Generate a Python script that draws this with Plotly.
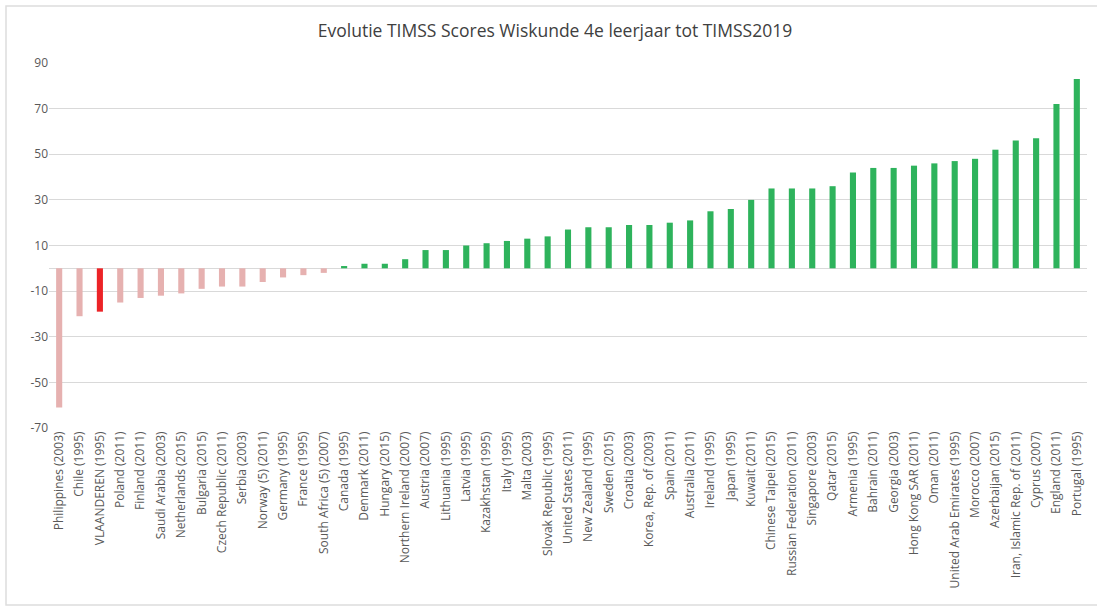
import plotly.graph_objects as go

countries = [
    "Philippines (2003)", "Chile (1995)", "VLAANDEREN (1995)", "Poland (2011)", "Finland (2011)",
    "Saudi Arabia (2003)", "Netherlands (2015)", "Bulgaria (2015)", "Czech Republic (2011)", "Serbia (2003)",
    "Norway (5) (2011)", "Germany (1995)", "France (1995)", "South Africa (5) (2007)", "Canada (1995)",
    "Denmark (2011)", "Hungary (2015)", "Northern Ireland (2007)", "Austria (2007)", "Lithuania (1995)",
    "Latvia (1995)", "Kazakhstan (1995)", "Italy (1995)", "Malta (2003)", "Slovak Republic (1995)",
    "United States (2011)", "New Zealand (1995)", "Sweden (2015)", "Croatia (2003)", "Korea, Rep. of (2003)",
    "Spain (2011)", "Australia (2011)", "Ireland (1995)", "Japan (1995)", "Kuwait (2011)",
    "Chinese Taipei (2015)", "Russian Federation (2011)", "Singapore (2003)", "Qatar (2015)", "Armenia (1995)",
    "Bahrain (2011)", "Georgia (2003)", "Hong Kong SAR (2011)", "Oman (2011)", "United Arab Emirates (1995)",
    "Morocco (2007)", "Azerbaijan (2015)", "Iran, Islamic Rep. of (2011)", "Cyprus (2007)", "England (2011)",
    "Portugal (1995)",
]
score_change = [
    -61, -21, -19, -15, -13,
    -12, -11, -9, -8, -8,
    -6, -4, -3, -2, 1,
    2, 2, 4, 8, 8,
    10, 11, 12, 13, 14,
    17, 18, 18, 19, 19,
    20, 21, 25, 26, 30,
    35, 35, 35, 36, 42,
    44, 44, 45, 46, 47,
    48, 52, 56, 57, 72,
    83,
]
highlight = "VLAANDEREN (1995)"
y_ticks = [-70, -50, -30, -10, 10, 30, 50, 70, 90]

NEG = "#E6B1B0"
HIL = "#EC2327"
POS = "#2EB35C"
colors = [HIL if c == highlight else (NEG if v < 0 else POS) for c, v in zip(countries, score_change)]

fig = go.Figure(go.Bar(x=countries, y=score_change, marker=dict(color=colors, line=dict(width=0)),
                       hoverinfo="x+y"))

W, H = 1097, 608
L, R, T, B = 49, 10, 63, 180
PW, PH = W - L - R, H - T - B

fig.update_layout(
    width=W, height=H,
    margin=dict(l=L, r=R, t=T, b=B),
    paper_bgcolor="white", plot_bgcolor="white",
    bargap=0.7,
    showlegend=False,
    font=dict(family="Open Sans, Lato, sans-serif", color="#595959"),
    title=dict(text="Evolutie TIMSS Scores Wiskunde 4e leerjaar tot TIMSS2019",
               x=555 / W, xanchor="center", y=1 - 31 / H, yanchor="middle",
               font=dict(size=17.5, color="#404040")),
)
fig.update_xaxes(tickangle=-90, tickfont=dict(size=12, color="#595959"), showgrid=False,
                 showline=False, ticks="", automargin=False)
fig.update_yaxes(range=[-70, 90], tickvals=y_ticks, ticktext=[str(t) for t in y_ticks],
                 tickfont=dict(size=12, color="#595959"), showgrid=True, gridcolor="#D9D9D9",
                 gridwidth=1, zeroline=True, zerolinecolor="#D9D9D9", zerolinewidth=1,
                 showline=False, ticks="", automargin=False)

# chart frame
fig.add_shape(type="rect", xref="paper", yref="paper",
              x0=(6 - L) / PW, x1=(1100 - L) / PW,
              y0=(PH + T - 605) / PH, y1=(PH + T - 6) / PH,
              line=dict(color="#DDDDDD", width=1.5), fillcolor="rgba(0,0,0,0)", layer="below")

fig.write_html("out.html", config={"displayModeBar": False},
               post_script="document.body.style.margin='0';")
